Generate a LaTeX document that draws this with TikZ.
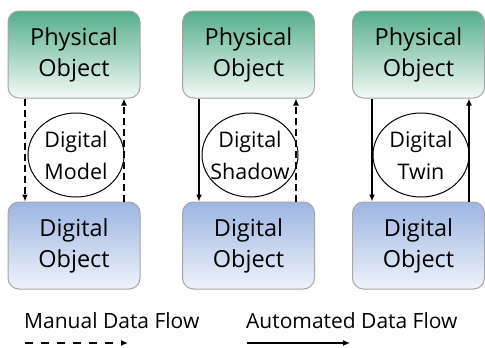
\documentclass[tikz,border=0pt]{standalone}
\usepackage{fontspec}
\setmainfont{Open Sans}
\usetikzlibrary{arrows.meta,shapes.geometric}
\definecolor{physTop}{HTML}{55AE8C}
\definecolor{physBot}{HTML}{F4FAF7}
\definecolor{digTop}{HTML}{9CB5E2}
\definecolor{digBot}{HTML}{EFF3FB}
\definecolor{boxBorder}{HTML}{A6A6A6}
\tikzset{
  objbox/.style={draw=boxBorder, line width=1pt, rounded corners=11pt,
    minimum width=132pt, minimum height=87pt, align=center,
    font=\fontsize{23.5}{31}\selectfont, inner sep=0pt},
  physbox/.style={objbox, top color=physTop, bottom color=physBot},
  digbox/.style={objbox, top color=digTop, bottom color=digBot},
  concept/.style={draw, ellipse, line width=1pt, minimum width=96pt, minimum height=84pt,
    inner sep=0pt},
  concepttext/.style={align=center, inner sep=0pt, font=\fontsize{21.5}{32}\selectfont},
  flow/.style={line width=1.5pt, -{Latex[length=7pt,width=6pt]}},
  manual/.style={flow, dash pattern=on 7pt off 4pt},
  legmanual/.style={flow, dash pattern=on 8pt off 8pt},
  legendtext/.style={font=\fontsize{21}{24}\selectfont, anchor=base west, inner sep=0pt}
}
\begin{document}
\begin{tikzpicture}[x=1pt,y=-1pt]
\useasboundingbox (0,0) rectangle (485,348);
% column 1
\node[physbox] (p1) at (74,54.5) {Physical\\Object};
\node[digbox]  (d1) at (74,245.5) {Digital\\Object};
\node[concept] (c1) at (76,155) {};
\node[concepttext] (t1) at (c1.center) {Digital\\Model};
% column 2
\node[physbox] (p2) at (248.5,54.5) {Physical\\Object};
\node[digbox]  (d2) at (248.5,245.5) {Digital\\Object};
\node[concept] (c2) at (250,155) {};
\node[concepttext] (t2) at (c2.center) {Digital\\Shadow};
% column 3
\node[physbox] (p3) at (418.5,54.5) {Physical\\Object};
\node[digbox]  (d3) at (418.5,245.5) {Digital\\Object};
\node[concept] (c3) at (421,155) {};
\node[concepttext] (t3) at (c3.center) {Digital\\Twin};
% arrows
\draw[manual] ([xshift=-49pt]p1.south) -- ([xshift=-49pt]d1.north);
\draw[manual] ([xshift=50pt]d1.north) -- ([xshift=50pt]p1.south);
\draw[flow]   ([xshift=-49.5pt]p2.south) -- ([xshift=-49.5pt]d2.north);
\draw[manual] ([xshift=47.5pt]d2.north) -- ([xshift=47.5pt]p2.south);
\draw[flow]   ([xshift=-46.5pt]p3.south) -- ([xshift=-46.5pt]d3.north);
\draw[flow]   ([xshift=50.5pt]d3.north) -- ([xshift=50.5pt]p3.south);
% legend
\node[legendtext] (lm) at (24,328) {Manual Data Flow};
\node[legendtext] (la) at (246,328) {Automated Data Flow};
\coordinate (lm1) at (25,343);
\coordinate (lm2) at (128,343);
\coordinate (la1) at (247,343);
\coordinate (la2) at (350,343);
\draw[legmanual] (lm1) -- (lm2);
\draw[flow] (la1) -- (la2);
\end{tikzpicture}
\end{document}
